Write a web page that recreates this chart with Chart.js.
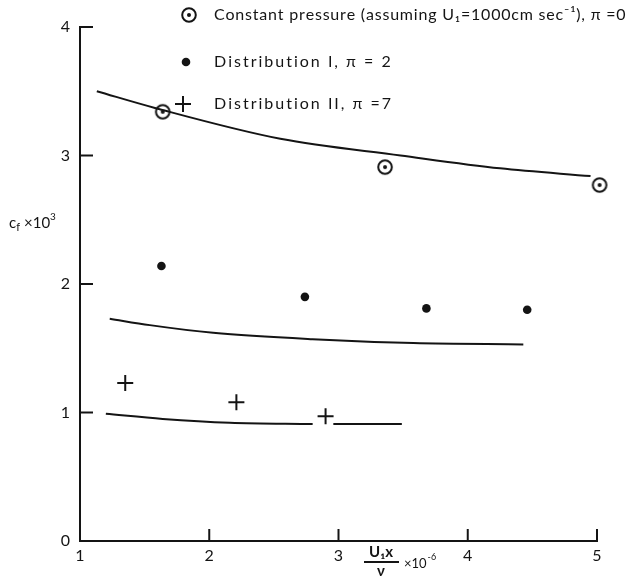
<!DOCTYPE html>
<html>
<head>
<meta charset="utf-8">
<script src="https://cdn.jsdelivr.net/npm/chart.js@4/dist/chart.umd.min.js"></script>
<style>
html,body{margin:0;padding:0;background:#fff;}
#wrap{position:relative;width:626px;height:577px;}
canvas{display:block;}
</style>
</head>
<body>
<div id="wrap"><canvas id="c" width="626" height="577"></canvas></div>
<script>
// ---- data ----
const xTicks = [1, 2, 3, 4, 5];
const yTicks = [0, 1, 2, 3, 4];

const constPressX = [1.64, 3.36, 5.02];
const constPressY = [3.34, 2.91, 2.77];

const dist1X = [1.63, 2.74, 3.68, 4.46];
const dist1Y = [2.14, 1.90, 1.81, 1.80];

const dist2X = [1.35, 2.21, 2.90];
const dist2Y = [1.23, 1.08, 0.97];

const curveTopX = [1.13, 1.58, 2.55, 3.48, 4.25, 4.95];
const curveTopY = [3.50, 3.37, 3.13, 3.00, 2.90, 2.84];

const curveMidX = [1.23, 1.54, 2.03, 2.80, 3.58, 4.43];
const curveMidY = [1.73, 1.68, 1.62, 1.57, 1.54, 1.53];

// null marks the break in the line where the "+" sits
const curveBotX = [1.20, 1.64, 2.16, 2.80, 2.88, 2.96, 3.49];
const curveBotY = [0.99, 0.95, 0.92, 0.91, null, 0.91, 0.91];

const legendLabels = [
  'Constant pressure (assuming U\u2081=1000cm sec\u207B\u00B9), \u03C0 =0',
  'Distribution I, \u03C0 = 2',
  'Distribution II, \u03C0 =7'
];

function pts(xs, ys){ return xs.map((x,i)=>({x:x, y:ys[i]})); }

const INK = '#141414';
const FONT = 'Lato, "DejaVu Sans", sans-serif';

// circle-with-dot marker
function makeCircleDot(){
  const cv = document.createElement('canvas');
  cv.width = 18; cv.height = 18;
  const g = cv.getContext('2d');
  g.strokeStyle = INK; g.lineWidth = 2;
  g.beginPath(); g.arc(9,9,6.8,0,Math.PI*2); g.stroke();
  g.fillStyle = INK;
  g.beginPath(); g.arc(9,9,2,0,Math.PI*2); g.fill();
  return cv;
}
const circleDot = makeCircleDot();

const lineDs = (xs, ys) => ({
  type:'scatter', data: pts(xs, ys), showLine:true, borderColor:INK, borderWidth:2,
  pointRadius:0, cubicInterpolationMode:'monotone', fill:false, spanGaps:false
});

// draw text with extra spacing between characters
function spacedText(ctx, text, x, y, spacing){
  let cx = x;
  for (const ch of text){
    ctx.fillText(ch, cx, y);
    cx += ctx.measureText(ch).width + spacing;
  }
  return cx;
}

const decor = {
  id:'decor',
  afterDraw(chart){
    const ctx = chart.ctx;
    const xs = chart.scales.x, ys = chart.scales.y;
    const ca = chart.chartArea;
    ctx.save();
    ctx.strokeStyle = INK; ctx.lineWidth = 2; ctx.lineCap = 'butt';
    // inward y tick marks
    yTicks.forEach(v => {
      if (v === 0) return;
      const py = ys.getPixelForValue(v);
      ctx.beginPath(); ctx.moveTo(ca.left, py); ctx.lineTo(ca.left + 13, py); ctx.stroke();
    });
    // inward x tick marks
    xTicks.forEach(v => {
      if (v === 1) return;
      const px = xs.getPixelForValue(v);
      ctx.beginPath(); ctx.moveTo(px, ca.bottom); ctx.lineTo(px, ca.bottom - 12); ctx.stroke();
    });

    // y-axis title: c_f x10^3
    ctx.fillStyle = INK;
    ctx.textBaseline = 'alphabetic';
    ctx.textAlign = 'left';
    let tx = 9, ty = 228;
    ctx.font = '15px ' + FONT;
    ctx.fillText('c', tx, ty); tx += ctx.measureText('c').width;
    ctx.font = '11px ' + FONT;
    ctx.fillText('f', tx, ty + 3); tx += ctx.measureText('f').width + 4;
    ctx.font = '15px ' + FONT;
    ctx.fillText('\u00D710', tx, ty); tx += ctx.measureText('\u00D710').width;
    ctx.font = '10px ' + FONT;
    ctx.fillText('3', tx, ty - 8);

    // x-axis title: (U1 x / nu) x10^-6
    ctx.textAlign = 'center';
    ctx.font = 'bold 15px ' + FONT;
    const fx = 381;
    ctx.fillText('U\u2081x', fx, 557);
    ctx.beginPath(); ctx.moveTo(364, 562); ctx.lineTo(399, 562); ctx.stroke();
    ctx.fillText('\u03BD', fx, 576);
    ctx.textAlign = 'left';
    ctx.font = '13px ' + FONT;
    ctx.fillText('\u00D710', 404, 568);
    const w10 = ctx.measureText('\u00D710').width;
    ctx.font = '9px ' + FONT;
    ctx.fillText('-6', 404 + w10 + 1, 560);

    // legend
    const rows = [15, 62, 104];
    const markerX = [189, 186, 183];
    ctx.drawImage(circleDot, markerX[0]-9, rows[0]-9);
    ctx.beginPath(); ctx.arc(markerX[1], rows[1], 4.3, 0, Math.PI*2); ctx.fill();
    ctx.beginPath();
    ctx.moveTo(markerX[2]-8, rows[2]); ctx.lineTo(markerX[2]+8, rows[2]);
    ctx.moveTo(markerX[2], rows[2]-8); ctx.lineTo(markerX[2], rows[2]+8);
    ctx.stroke();
    ctx.font = '16px ' + FONT;
    ctx.textBaseline = 'middle';
    ctx.textAlign = 'left';
    const spacing = [0.8, 2.0, 2.0];
    legendLabels.forEach((t,i) => spacedText(ctx, t, 214, rows[i], spacing[i]));
    ctx.restore();
  }
};

new Chart(document.getElementById('c'), {
  type:'scatter',
  data:{
    datasets:[
      lineDs(curveTopX, curveTopY),
      lineDs(curveMidX, curveMidY),
      lineDs(curveBotX, curveBotY),
      { label: legendLabels[0], data: pts(constPressX, constPressY), pointStyle: circleDot, pointRadius: 9, showLine:false, clip:false },
      { label: legendLabels[1], data: pts(dist1X, dist1Y), pointStyle:'circle', pointRadius:4.3, backgroundColor:INK, borderColor:INK, borderWidth:0, showLine:false, clip:false },
      { label: legendLabels[2], data: pts(dist2X, dist2Y), pointStyle:'cross', pointRadius:8, borderColor:INK, borderWidth:2, showLine:false, clip:false }
    ]
  },
  options:{
    responsive:false,
    animation:false,
    devicePixelRatio:1,
    layout:{ padding:{ left:0, top:27, right:29, bottom:0 } },
    plugins:{ legend:{display:false}, tooltip:{enabled:false}, title:{display:false} },
    scales:{
      x:{
        type:'linear', min:1, max:5,
        afterBuildTicks(s){ s.ticks = xTicks.map(v=>({value:v})); },
        afterFit(s){ s.height = 36; },
        grid:{ display:false, drawTicks:false },
        border:{ display:true, color:INK, width:2 },
        ticks:{ color:INK, font:{ family:FONT, size:16 }, padding:5 }
      },
      y:{
        type:'linear', min:0, max:4,
        afterBuildTicks(s){ s.ticks = yTicks.map(v=>({value:v})); },
        afterFit(s){ s.width = 80; },
        grid:{ display:false, drawTicks:false },
        border:{ display:true, color:INK, width:2 },
        ticks:{ color:INK, font:{ family:FONT, size:16 }, padding:10 }
      }
    }
  },
  plugins:[decor]
});
</script>
</body>
</html>
